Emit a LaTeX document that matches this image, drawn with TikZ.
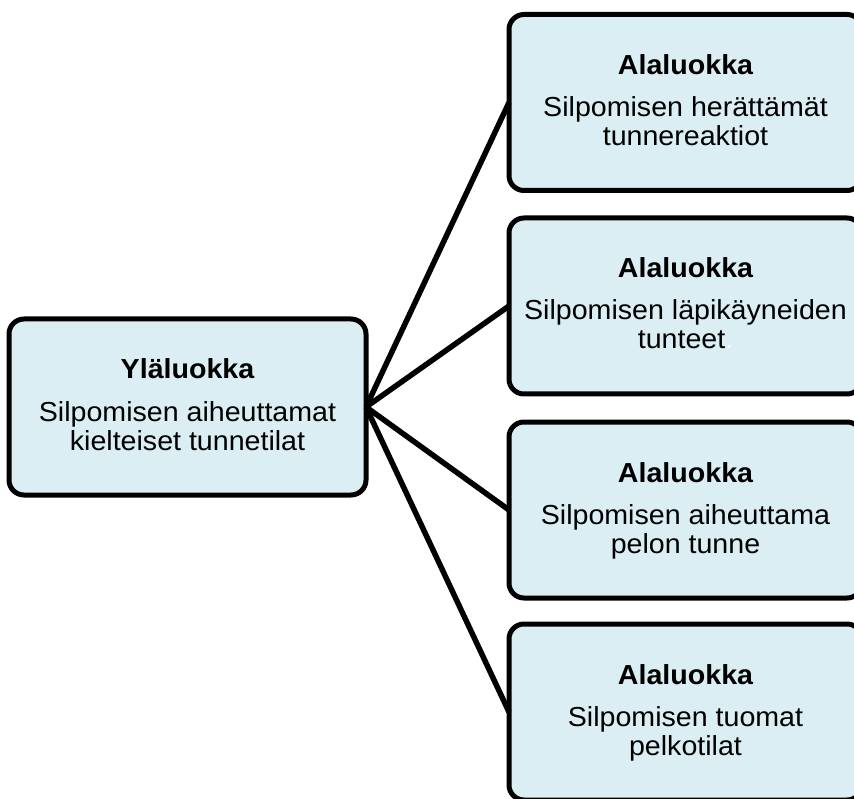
\documentclass[tikz,border=0pt]{standalone}
\usepackage{fontspec}
\setmainfont{Liberation Sans}[FakeStretch=1.04]
\definecolor{boxfill}{HTML}{DAEEF3}
\begin{document}
\begin{tikzpicture}[x=1pt,y=-1pt,
  catbox/.style={draw=black, line width=5pt, fill=boxfill, rounded corners=15pt,
    minimum height=176pt, inner sep=0pt, outer sep=0pt},
  leftbox/.style={catbox, minimum width=357pt},
  rightbox/.style={catbox, minimum width=353pt},
  head/.style={anchor=base, inner sep=0pt, font=\fontsize{27.5}{30}\selectfont\bfseries},
  txt/.style={anchor=base, inner sep=0pt, font=\fontsize{27.5}{30}\selectfont},
  conn/.style={draw=black, line width=5.5pt}
]
\useasboundingbox (0,0) rectangle (854,799);
\clip (0,0) rectangle (854,799);

\node[leftbox] (top) at (187.5,407) {};
\node[rightbox] (s1) at (685.5,102.5) {};
\node[rightbox] (s2) at (685.5,306) {};
\node[rightbox] (s3) at (685.5,510) {};
\node[rightbox] (s4) at (685.5,712) {};

\draw[conn] (top.east) -- (s1.west);
\draw[conn] (top.east) -- (s2.west);
\draw[conn] (top.east) -- (s3.west);
\draw[conn] (top.east) -- (s4.west);

% left box text
\node[head] (toph) at ([yshift=28pt]top.center) {Yläluokka};
\node[txt] (topa) at ([yshift=-14pt]top.center) {Silpomisen aiheuttamat};
\node[txt] (topb) at ([yshift=-43pt]top.center) {kielteiset tunnetilat};

% right box texts
\node[head] (s1h) at ([yshift=28pt]s1.center) {Alaluokka};
\node[txt] (s1a) at ([yshift=-14pt]s1.center) {Silpomisen herättämät};
\node[txt] (s1b) at ([yshift=-43pt]s1.center) {tunnereaktiot};

\node[head] (s2h) at ([yshift=28pt]s2.center) {Alaluokka};
\node[txt] (s2a) at ([yshift=-14pt]s2.center) {Silpomisen läpikäyneiden};
\node[txt] (s2b) at ([yshift=-43pt]s2.center) {tunteet\textcolor{white}{.}};

\node[head] (s3h) at ([yshift=28pt]s3.center) {Alaluokka};
\node[txt] (s3a) at ([yshift=-14pt]s3.center) {Silpomisen aiheuttama};
\node[txt] (s3b) at ([yshift=-43pt]s3.center) {pelon tunne};

\node[head] (s4h) at ([yshift=28pt]s4.center) {Alaluokka};
\node[txt] (s4a) at ([yshift=-14pt]s4.center) {Silpomisen tuomat};
\node[txt] (s4b) at ([yshift=-43pt]s4.center) {pelkotilat};
\end{tikzpicture}
\end{document}
